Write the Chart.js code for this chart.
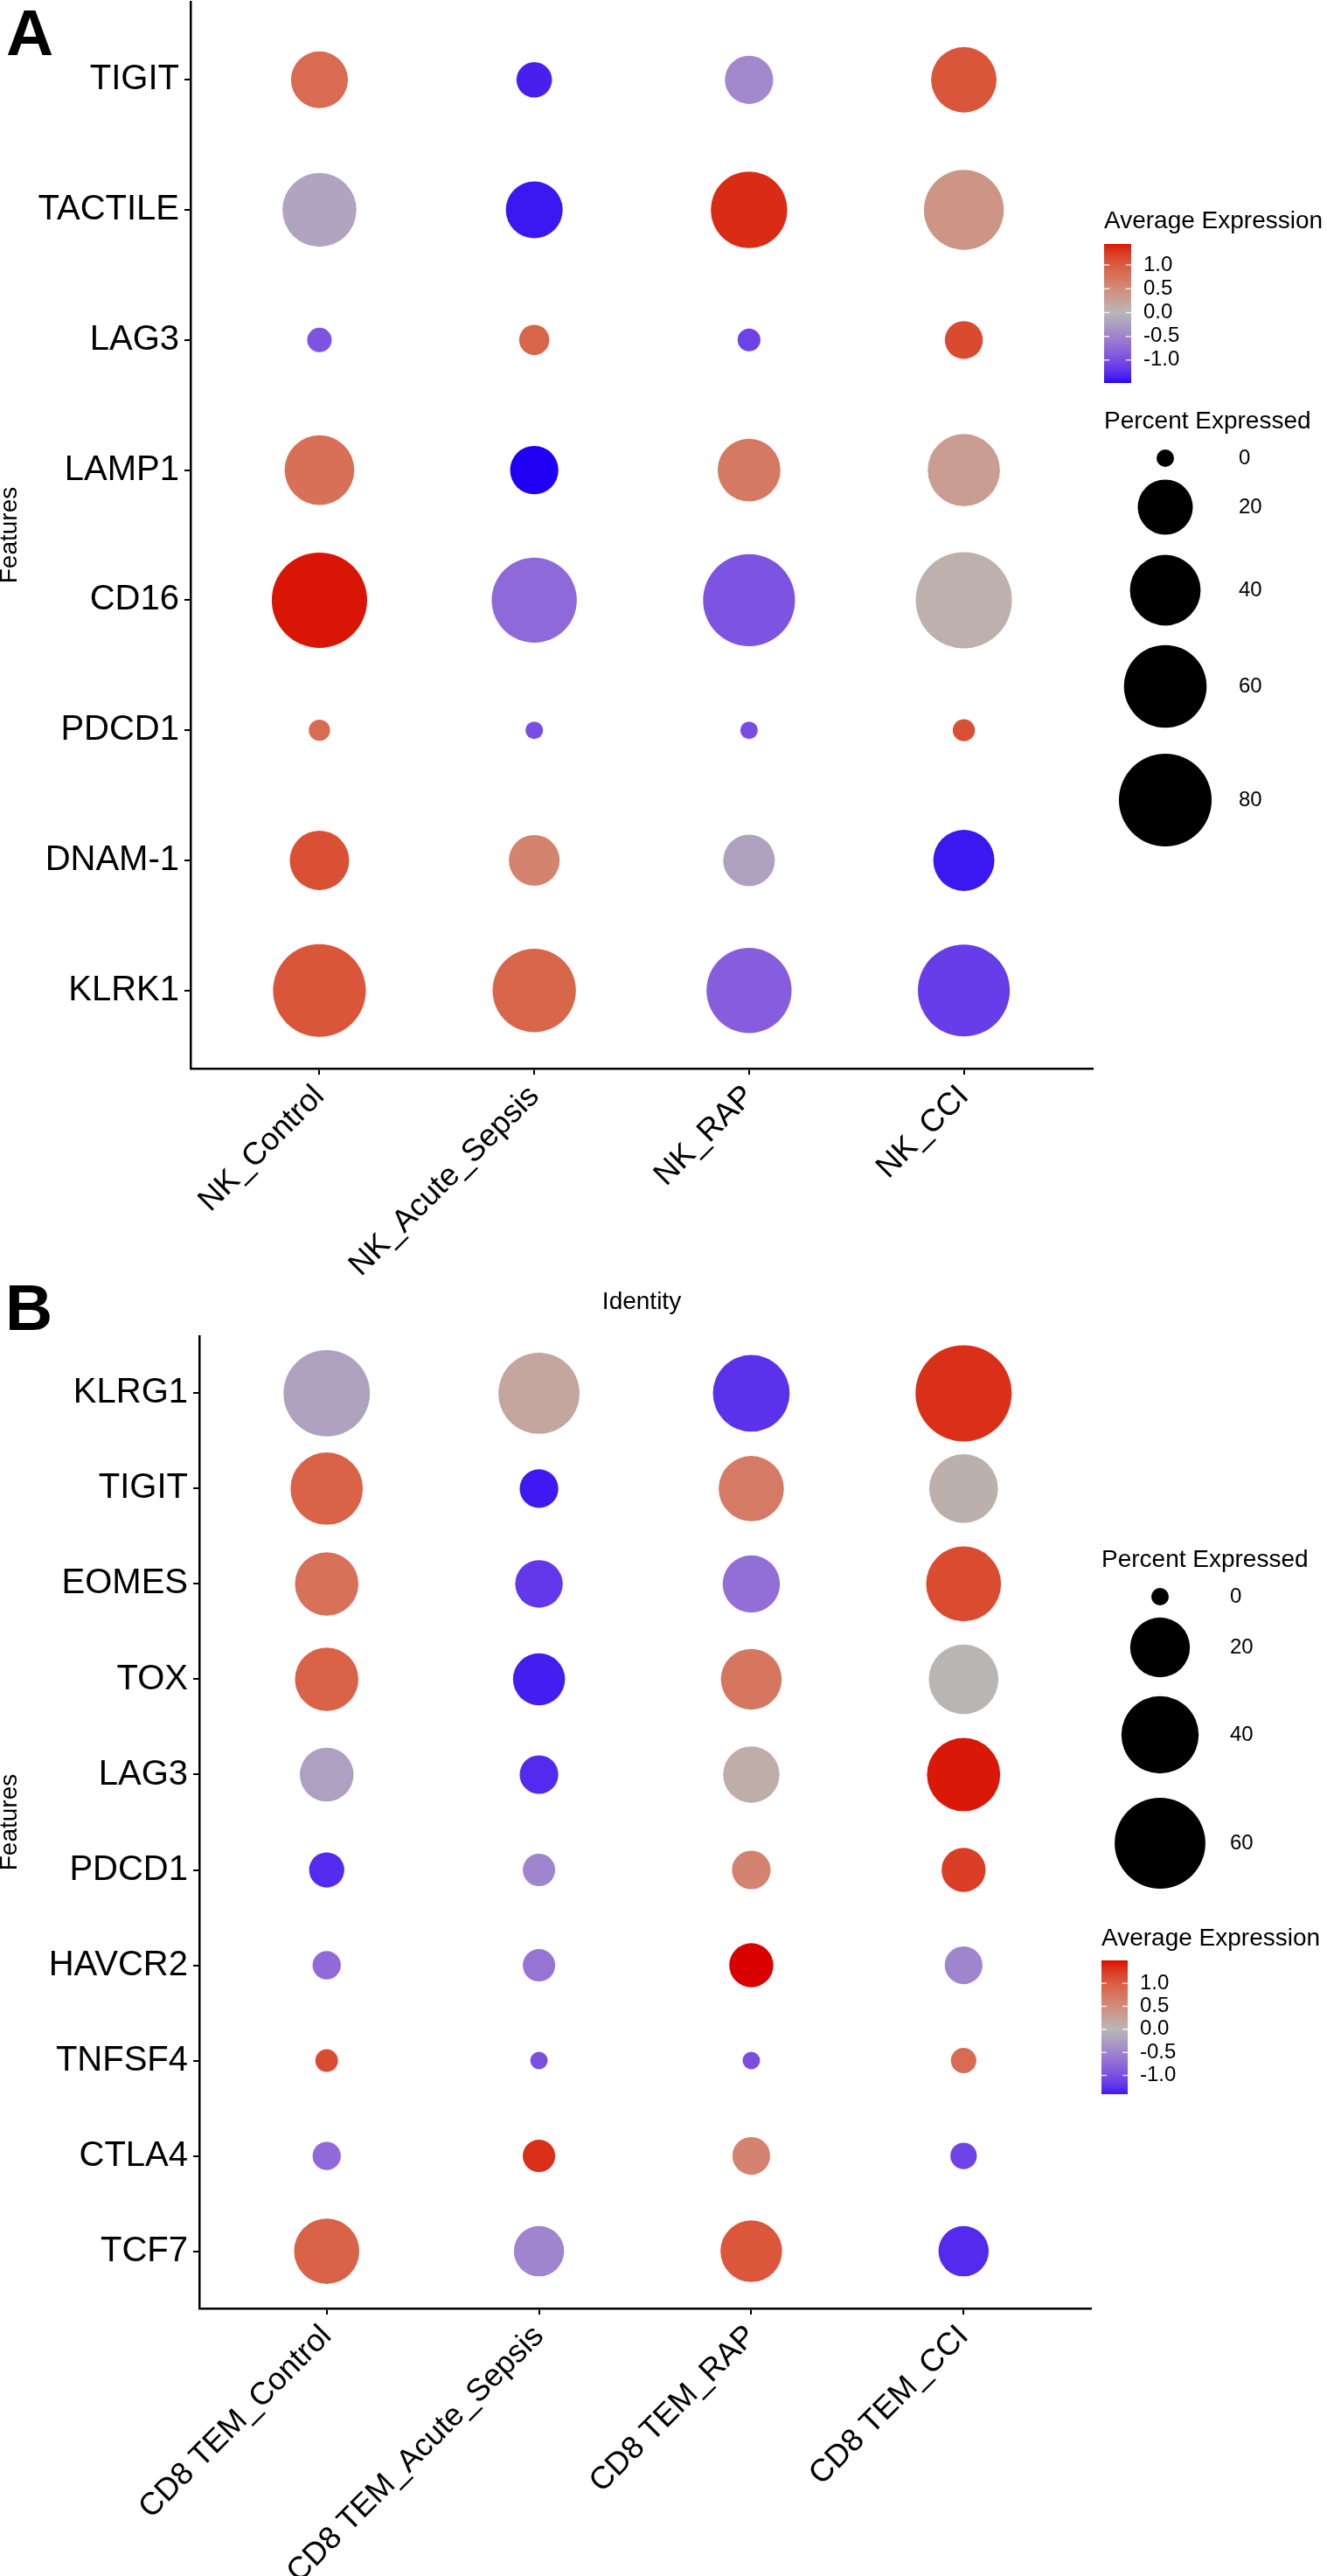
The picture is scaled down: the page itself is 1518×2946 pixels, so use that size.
<!DOCTYPE html>
<html>
<head>
<meta charset="utf-8">
<script src="https://cdn.jsdelivr.net/npm/chart.js@4.4.1/dist/chart.umd.min.js"></script>
<style>
  html, body { margin: 0; padding: 0; background: #fff; }
  body { width: 1518px; height: 2946px; position: relative; overflow: hidden; }
  canvas { position: absolute; left: 0; }
  #chartA { top: 0; }
  #chartB { top: 1506px; }
  .tag { position: absolute; font: bold 75px/75px 'Liberation Sans', Arial, sans-serif; color: #000; z-index: 2; }
</style>
</head>
<body>
<div class="tag" style="left:7px; top:0px">A</div>
<div class="tag" style="left:6px; top:1458px">B</div>
<canvas id="chartA" width="1518" height="1506" style="width:1518px;height:1506px"></canvas>
<canvas id="chartB" width="1518" height="1440" style="width:1518px;height:1440px"></canvas>
<script>
const FONT = "'Liberation Sans', Arial, Helvetica, sans-serif";

// ---- panel A : NK cells ----
const featuresA = ['TIGIT', 'TACTILE', 'LAG3', 'LAMP1', 'CD16', 'PDCD1', 'DNAM-1', 'KLRK1'];
const groupsA = ['NK_Control', 'NK_Acute_Sepsis', 'NK_RAP', 'NK_CCI'];
// percent expressed, one row per feature, columns in groupsA order
const pctA = [
  [21.9, 4.6, 13.4, 32.4],
  [45.0, 21.9, 49.2, 55.0],
  [0.7, 2.3, 0.4, 5.9],
  [38.4, 13.4, 29.0, 42.3],
  [85.5, 64.5, 78.2, 87.4],
  [0.2, 0.0, 0.0, 0.3],
  [24.8, 15.7, 16.5, 26.9],
  [80.0, 61.2, 64.5, 78.2]
];
// scaled average expression
const avgA = [
  [0.85, -1.35, -0.45, 1.05],
  [-0.18, -1.4, 1.35, 0.4],
  [-0.95, 0.9, -1.1, 1.15],
  [0.8, -1.48, 0.7, 0.3],
  [1.44, -0.75, -0.95, 0.08],
  [0.85, -1.0, -1.0, 1.1],
  [1.1, 0.6, -0.2, -1.4],
  [1.05, 0.9, -0.85, -1.15]
];

// ---- panel B : CD8 TEM ----
const featuresB = ['KLRG1', 'TIGIT', 'EOMES', 'TOX', 'LAG3', 'PDCD1', 'HAVCR2', 'TNFSF4', 'CTLA4', 'TCF7'];
const groupsB = ['CD8 TEM_Control', 'CD8 TEM_Acute_Sepsis', 'CD8 TEM_RAP', 'CD8 TEM_CCI'];
const pctB = [
  [53.1, 45.3, 39.2, 69.2],
  [33.6, 5.0, 25.5, 29.4],
  [23.6, 10.1, 17.7, 36.9],
  [23.6, 13.3, 21.0, 30.4],
  [14.7, 5.0, 16.9, 34.7],
  [3.5, 2.5, 5.0, 7.9],
  [1.3, 2.5, 7.9, 4.6],
  [0.3, 0.0, 0.0, 0.7],
  [1.3, 2.5, 4.6, 0.9],
  [25.5, 12.0, 21.8, 12.0]
];
const avgB = [
  [-0.2, 0.2, -1.25, 1.35],
  [0.95, -1.41, 0.7, 0.08],
  [0.8, -1.2, -0.7, 1.15],
  [0.95, -1.38, 0.75, 0.02],
  [-0.22, -1.3, 0.12, 1.45],
  [-1.3, -0.5, 0.6, 1.25],
  [-0.75, -0.65, 1.5, -0.5],
  [1.15, -1.0, -1.0, 0.85],
  [-0.75, 1.35, 0.6, -1.1],
  [0.95, -0.5, 1.05, -1.3]
];

// legend breaks
const colorTicks = [1.0, 0.5, 0.0, -0.5, -1.0];
const sizeBreaksA = [0, 20, 40, 60, 80];
const sizeBreaksB = [0, 20, 40, 60];

// ---- colour: blue - grey - red, interpolated in Lab ----
const LOW = '#2000f5', MID = '#b7b7b7', HIGH = '#d90000';

function hexRgb(h) {
  return [1, 3, 5].map(i => parseInt(h.slice(i, i + 2), 16));
}
function toLin(c) { c /= 255; return c <= 0.04045 ? c / 12.92 : Math.pow((c + 0.055) / 1.055, 2.4); }
function fromLin(c) {
  const v = c <= 0.0031308 ? 12.92 * c : 1.055 * Math.pow(c, 1 / 2.4) - 0.055;
  return Math.round(Math.max(0, Math.min(1, v)) * 255);
}
function rgbLab(rgb) {
  const [r, g, b] = rgb.map(toLin);
  const f = t => t > 0.008856 ? Math.cbrt(t) : 7.787 * t + 16 / 116;
  const X = f((0.4124 * r + 0.3576 * g + 0.1805 * b) / 0.95047);
  const Y = f(0.2126 * r + 0.7152 * g + 0.0722 * b);
  const Z = f((0.0193 * r + 0.1192 * g + 0.9505 * b) / 1.08883);
  return [116 * Y - 16, 500 * (X - Y), 200 * (Y - Z)];
}
function labCss([L, a, bb]) {
  const fy = (L + 16) / 116, fx = fy + a / 500, fz = fy - bb / 200;
  const fi = t => t * t * t > 0.008856 ? t * t * t : (t - 16 / 116) / 7.787;
  const X = fi(fx) * 0.95047, Y = fi(fy), Z = fi(fz) * 1.08883;
  const r = 3.2406 * X - 1.5372 * Y - 0.4986 * Z;
  const g = -0.9689 * X + 1.8758 * Y + 0.0415 * Z;
  const b = 0.0557 * X - 0.2040 * Y + 1.0570 * Z;
  return 'rgb(' + fromLin(r) + ',' + fromLin(g) + ',' + fromLin(b) + ')';
}
const labLow = rgbLab(hexRgb(LOW)), labMid = rgbLab(hexRgb(MID)), labHigh = rgbLab(hexRgb(HIGH));

function divergent(t) {
  t = Math.max(-1, Math.min(1, t));
  const end = t >= 0 ? labHigh : labLow;
  const k = Math.abs(t);
  return labCss(labMid.map((m, i) => m + (end[i] - m) * k));
}

function colorScale(avg) {
  const flat = avg.flat();
  const lo = Math.min(...flat), hi = Math.max(...flat);
  const lim = Math.max(-lo, hi);
  return { lo, hi, color: v => divergent(v / lim) };
}

// point radius from percent (area-like scale between rMin and rMax)
const R_MIN = 10, R_MAX = 55;
function sizeScale(pct) {
  const flat = pct.flat();
  const lo = Math.min(...flat), hi = Math.max(...flat);
  return p => R_MIN + (R_MAX - R_MIN) * Math.sqrt(Math.max(0, (p - lo) / (hi - lo)));
}

function drawLegends(ctx, p, size, col) {
  ctx.save();
  ctx.textAlign = 'left';
  ctx.textBaseline = 'middle';

  // colour bar
  const cb = p.colorbar;
  ctx.fillStyle = '#000';
  ctx.font = '28px ' + FONT;
  ctx.fillText('Average Expression', cb.x, cb.titleY);
  for (let k = 0; k < cb.h; k++) {
    const v = col.hi - (k + 0.5) / cb.h * (col.hi - col.lo);
    ctx.fillStyle = col.color(v);
    ctx.fillRect(cb.x, cb.y + k, cb.w, k === cb.h - 1 ? 1 : 1.5);
  }
  const vy = v => cb.y + (col.hi - v) / (col.hi - col.lo) * cb.h;
  ctx.strokeStyle = 'rgba(255,255,255,0.8)';
  ctx.lineWidth = 1.5;
  colorTicks.forEach(t => {
    const y = vy(t);
    ctx.beginPath();
    ctx.moveTo(cb.x, y); ctx.lineTo(cb.x + cb.w / 5, y);
    ctx.moveTo(cb.x + cb.w * 4 / 5, y); ctx.lineTo(cb.x + cb.w, y);
    ctx.stroke();
  });
  ctx.fillStyle = '#000';
  ctx.font = '24px ' + FONT;
  colorTicks.forEach(t => ctx.fillText(t.toFixed(1), cb.labelX, vy(t)));

  // size legend
  const sl = p.sizeLegend;
  ctx.font = '28px ' + FONT;
  ctx.fillText('Percent Expressed', sl.x, sl.titleY);
  ctx.font = '24px ' + FONT;
  p.sizeBreaks.forEach((b, k) => {
    ctx.beginPath();
    ctx.arc(sl.cx, sl.cy[k], size(b), 0, Math.PI * 2);
    ctx.fill();
    ctx.fillText(String(b), sl.labelX, sl.cy[k]);
  });
  ctx.restore();
}

function dotPlot(id, p) {
  const size = sizeScale(p.pct);
  const col = colorScale(p.avg);
  const points = [];
  p.features.forEach((f, i) => {
    p.groups.forEach((g, j) => {
      points.push({ x: j, y: i, pct: p.pct[i][j], avg: p.avg[i][j] });
    });
  });

  const axisGrid = { drawOnChartArea: false, drawTicks: true, tickLength: 7, color: '#000', lineWidth: 2 };
  const axisBorder = { display: true, color: '#000', width: 2.5 };

  return new Chart(document.getElementById(id), {
    type: 'scatter',
    data: {
      datasets: [{
        data: points,
        pointRadius: c => c.raw ? size(c.raw.pct) : R_MIN,
        pointHoverRadius: c => c.raw ? size(c.raw.pct) : R_MIN,
        pointBackgroundColor: c => c.raw ? col.color(c.raw.avg) : MID,
        pointBorderWidth: 0,
        pointHoverBorderWidth: 0,
        clip: false
      }]
    },
    options: {
      responsive: false,
      animation: false,
      events: [],
      layout: { autoPadding: false, padding: p.pad },
      plugins: { legend: { display: false }, tooltip: { enabled: false } },
      scales: {
        x: {
          type: 'linear',
          min: -0.6,
          max: p.groups.length - 0.4,
          afterBuildTicks: s => { s.ticks = p.groups.map((g, j) => ({ value: j })); },
          afterFit: s => { s.height = p.xAxisH; s.paddingLeft = 0; s.paddingRight = 0; },
          ticks: {
            autoSkip: false, minRotation: 45, maxRotation: 45, padding: 4,
            color: '#000', font: { family: FONT, size: 36 },
            callback: v => p.groups[v]
          },
          grid: axisGrid,
          border: axisBorder,
          title: {
            display: p.xTitle, text: 'Identity', color: '#000', padding: 0,
            font: { family: FONT, size: 28, lineHeight: 1.2 }
          }
        },
        y: {
          type: 'linear',
          reverse: true,
          min: -0.6,
          max: p.features.length - 0.4,
          afterBuildTicks: s => { s.ticks = p.features.map((f, i) => ({ value: i })); },
          afterFit: s => { s.width = p.yAxisW; s.paddingTop = 0; s.paddingBottom = 0; },
          ticks: {
            autoSkip: false, padding: 6,
            color: '#000', font: { family: FONT, size: 40 },
            callback: v => p.features[v]
          },
          grid: axisGrid,
          border: axisBorder,
          title: {
            display: true, text: 'Features', color: '#000', padding: 0,
            font: { family: FONT, size: 28, lineHeight: 0.8 }
          }
        }
      }
    },
    plugins: [{
      id: 'dotLegend',
      afterDraw: chart => drawLegends(chart.ctx, p, size, col)
    }]
  });
}

dotPlot('chartA', {
  features: featuresA, groups: groupsA, pct: pctA, avg: avgA,
  sizeBreaks: sizeBreaksA,
  pad: { left: 0, top: 2, right: 268, bottom: 0 },
  yAxisW: 218, xAxisH: 284, xTitle: true,
  colorbar: { x: 1263, y: 279, w: 31, h: 159, titleY: 253, labelX: 1308 },
  sizeLegend: { x: 1263, titleY: 482, cx: 1333, cy: [524, 580, 675, 785, 915], labelX: 1417 }
});

dotPlot('chartB', {
  features: featuresB, groups: groupsB, pct: pctB, avg: avgB,
  sizeBreaks: sizeBreaksB,
  pad: { left: 0, top: 22, right: 270, bottom: 0 },
  yAxisW: 228, xAxisH: 306, xTitle: false,
  colorbar: { x: 1260, y: 736, w: 30, h: 153, titleY: 711, labelX: 1304 },
  sizeLegend: { x: 1260, titleY: 278, cx: 1327, cy: [320, 378, 478, 602], labelX: 1407 }
});
</script>
</body>
</html>
